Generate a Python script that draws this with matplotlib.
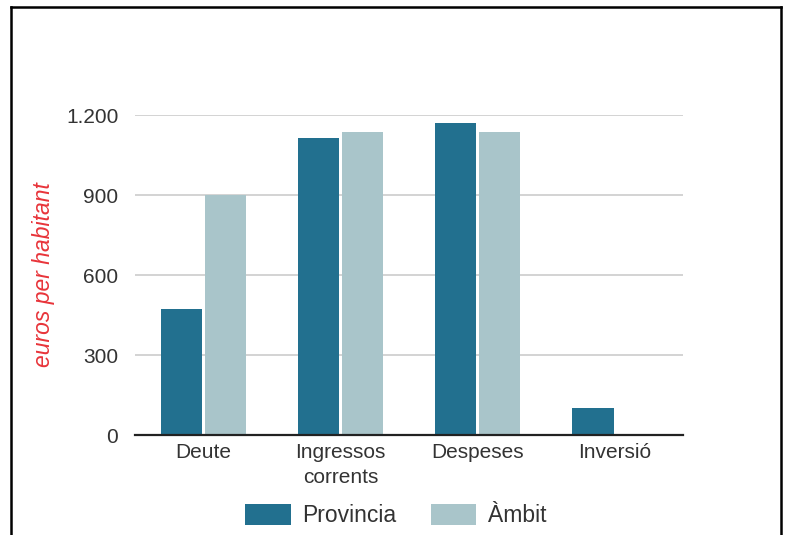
import matplotlib.pyplot as plt
import numpy as np
from matplotlib.lines import Line2D

plt.rcParams['font.family'] = ['Liberation Sans', 'DejaVu Sans']

# indicadors per habitant
categories = ['Deute', 'Ingressos\ncorrents', 'Despeses', 'Inversió']
provincia = [472, 1114, 1170, 101]
ambit = [900, 1136, 1136, 0]
yticks = [0, 300, 600, 900, 1200]
ytick_labels = ['0', '300', '600', '900', '1.200']

c_prov = '#22708f'
c_amb = '#a9c5ca'

fig = plt.figure(figsize=(7.91, 5.35), dpi=100)
ax = fig.add_axes([0.1707, 0.1869, 0.6928, 0.598])

x = np.arange(len(categories))
w = 0.305
ax.bar(x - 0.16, provincia, w, color=c_prov, label='Provincia', zorder=3)
ax.bar(x + 0.16, ambit, w, color=c_amb, label='Àmbit', zorder=3)

ax.set_xlim(-0.5, 3.5)
ax.set_ylim(0, 1200)
ax.set_yticks(yticks)
ax.set_yticklabels(ytick_labels)
ax.set_xticks(x)
ax.set_xticklabels(categories, linespacing=1.35)
ax.tick_params(axis='both', length=0, labelsize=15, colors='#333333')
ax.tick_params(axis='y', pad=12)
ax.tick_params(axis='x', pad=6)

ax.yaxis.grid(True, color='#cccccc', linewidth=1.2, zorder=0)
for s in ['top', 'right', 'left']:
    ax.spines[s].set_visible(False)
ax.spines['bottom'].set_color('#222222')
ax.spines['bottom'].set_linewidth(1.6)
ax.spines['bottom'].set_zorder(4)

fig.text(0.055, 0.487, 'euros per habitant', rotation=90, color='#e8343a',
         style='italic', fontsize=16.5, ha='center', va='center')

ax.legend(loc='center', bbox_to_anchor=(0.5, 0.036), bbox_transform=fig.transFigure,
          ncol=2, frameon=False, fontsize=16.5, handlelength=2.0, handleheight=1.0,
          columnspacing=1.5, handletextpad=0.5, labelcolor='#333333')

# marc exterior
for xs, ys in [([0.014, 0.014], [0.0, 0.987]), ([0.014, 0.987], [0.987, 0.987]),
               ([0.987, 0.987], [0.0, 0.987])]:
    fig.add_artist(Line2D(xs, ys, color='black', linewidth=1.8))

fig.savefig('out.png', dpi=100)
